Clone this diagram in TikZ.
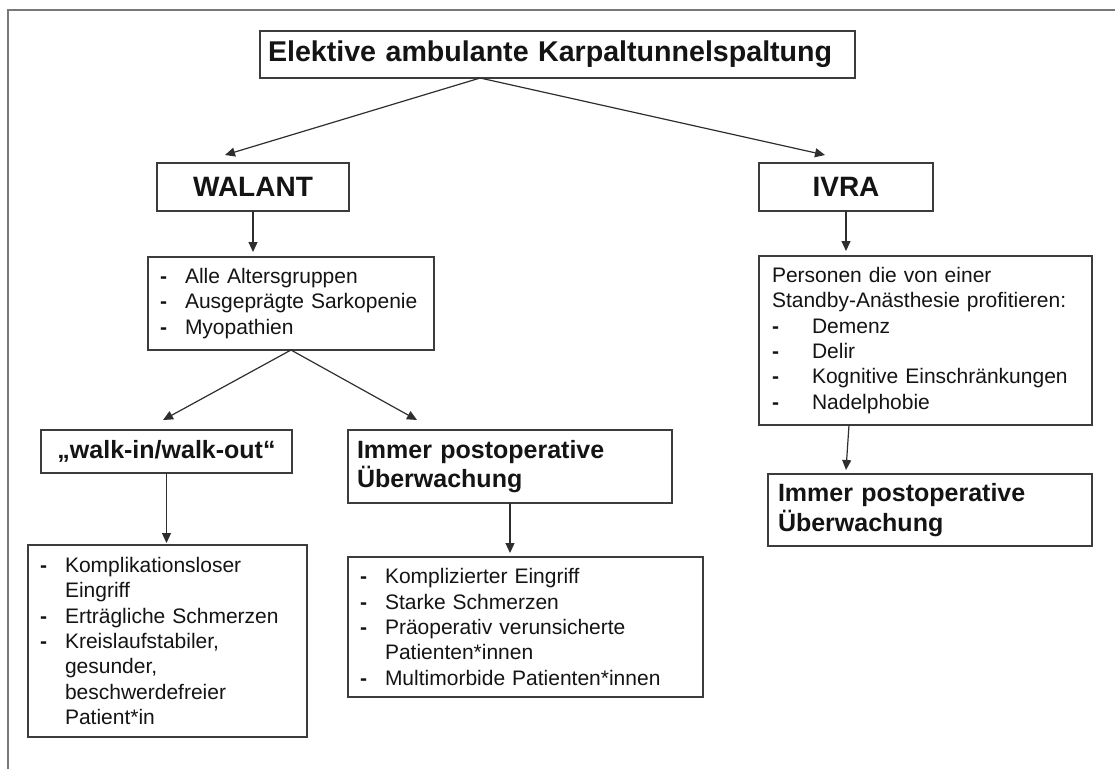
\documentclass[tikz,border=0pt]{standalone}
\usepackage{fontspec}
\setmainfont{Liberation Sans}
\usetikzlibrary{arrows.meta,positioning,calc}

\definecolor{boxline}{HTML}{3C3C3C}
\definecolor{arrowline}{HTML}{2E2E2E}
\definecolor{framegray}{HTML}{787878}
\definecolor{ink}{HTML}{141414}

% list entry with a hanging dash
\newcommand{\dashline}[2]{\makebox[#1][l]{\textbf{-}}#2}
\newcommand{\contline}[2]{\hspace*{#1}#2}

\begin{document}
\begin{tikzpicture}[x=1pt,y=-1pt,
  box/.style={draw=boxline, line width=1.3pt, fill=white, inner ysep=0pt,
    outer sep=0pt, anchor=north west, text=ink},
  headbox/.style={box, font=\fontsize{28}{32}\selectfont\bfseries, align=center},
  subbox/.style={box, font=\fontsize{25}{29.5}\selectfont\bfseries, align=left},
  listbox/.style={box, font=\fontsize{21}{25.3}\selectfont, align=left},
  arr/.style={draw=arrowline, line width=1.2pt,
    -{Triangle[length=10pt,width=9pt]}}
]
\useasboundingbox (0,0) rectangle (1115,769);

% outer frame (top and left edges)
\draw[framegray, line width=2pt] (1115,10) -- (8,10) -- (8,769);

% top level
\node[headbox, font=\fontsize{28.6}{33}\selectfont\bfseries, align=left,
  inner xsep=8pt, text width=579pt,
  minimum width=595pt, minimum height=47pt] (title) at (260,31)
  {Elektive ambulante Karpaltunnelspaltung};

% procedures
\node[headbox, minimum width=192pt, minimum height=48pt] (walant) at (157,163) {WALANT};
\node[headbox, minimum width=174pt, minimum height=48pt] (ivra) at (759,163) {IVRA};

% WALANT branch
\node[listbox, minimum width=286pt, minimum height=93pt, inner xsep=12pt,
  text width=262pt] (walantlist) at (148,257)
  {\dashline{25pt}{Alle Altersgruppen}\\
   \dashline{25pt}{Ausgeprägte Sarkopenie}\\
   \dashline{25pt}{Myopathien}};

\node[headbox, font=\fontsize{25}{29.5}\selectfont\bfseries,
  minimum width=251pt, minimum height=43pt] (walkin) at (41,430)
  {„walk-in/walk-out“};

\node[subbox, minimum width=324pt, minimum height=73pt, inner xsep=9pt,
  text width=306pt] (monitorA) at (348,430)
  {Immer postoperative\\Überwachung};

\node[listbox, minimum width=279pt, minimum height=192pt, inner xsep=12pt,
  text width=255pt] (walkinlist) at (28,545)
  {\dashline{25pt}{Komplikationsloser}\\
   \contline{25pt}{Eingriff}\\
   \dashline{25pt}{Erträgliche Schmerzen}\\
   \dashline{25pt}{Kreislaufstabiler,}\\
   \contline{25pt}{gesunder,}\\
   \contline{25pt}{beschwerdefreier}\\
   \contline{25pt}{Patient*in}};

\node[listbox, minimum width=355pt, minimum height=140pt, inner xsep=12pt,
  text width=331pt] (monitorAlist) at (348,557)
  {\dashline{25pt}{Komplizierter Eingriff}\\
   \dashline{25pt}{Starke Schmerzen}\\
   \dashline{25pt}{Präoperativ verunsicherte}\\
   \contline{25pt}{Patienten*innen}\\
   \dashline{25pt}{Multimorbide Patienten*innen}};

% IVRA branch
\node[listbox, minimum width=333pt, minimum height=169pt, inner xsep=13pt,
  text width=307pt] (ivralist) at (759,256)
  {Personen die von einer\\
   Standby-Anästhesie profitieren:\\
   \dashline{40pt}{Demenz}\\
   \dashline{40pt}{Delir}\\
   \dashline{40pt}{Kognitive Einschränkungen}\\
   \dashline{40pt}{Nadelphobie}};

\node[subbox, minimum width=324pt, minimum height=72pt, inner xsep=10pt,
  text width=304pt] (monitorB) at (768,474)
  {Immer postoperative\\Überwachung};

% connectors
\coordinate (split) at ($(title.south west)!0.37!(title.south east)$);
\draw[arr] (split) -- ([xshift=-28pt,yshift=8pt]walant.north);
\draw[arr] (split) -- ([xshift=-21pt,yshift=8pt]ivra.north);

\draw[arr, shorten >=5pt] (walant.south) -- (walant.south |- walantlist.north);
\draw[arr, shorten >=5pt] (ivra.south) -- (ivra.south |- ivralist.north);

\draw[arr] (walantlist.south) -- ([xshift=-3.5pt,yshift=10pt]walkin.north);
\draw[arr] (walantlist.south) -- ([xshift=-93pt,yshift=10pt]monitorA.north);

\draw[arr, shorten >=2pt] (walkin.south) -- (walkin.south |- walkinlist.north);
\draw[arr, shorten >=4pt] (monitorA.south) -- (monitorA.south |- monitorAlist.north);

\draw[arr] ([xshift=-76.5pt]ivralist.south) -- ([xshift=-84pt,yshift=4pt]monitorB.north);
\end{tikzpicture}
\end{document}
